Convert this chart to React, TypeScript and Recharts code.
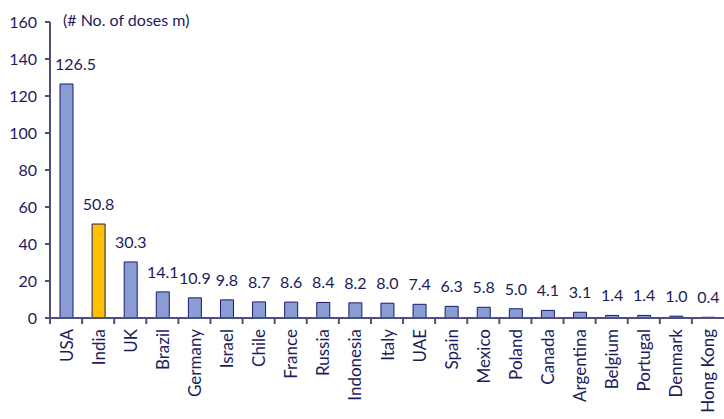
import React from 'react'
import { BarChart, Bar, XAxis, YAxis, LabelList, Cell } from 'recharts'

const countries = [
  'USA', 'India', 'UK', 'Brazil', 'Germany', 'Israel', 'Chile', 'France', 'Russia', 'Indonesia',
  'Italy', 'UAE', 'Spain', 'Mexico', 'Poland', 'Canada', 'Argentina', 'Belgium', 'Portugal', 'Denmark', 'Hong Kong',
]
const doses = [126.5, 50.8, 30.3, 14.1, 10.9, 9.8, 8.7, 8.6, 8.4, 8.2, 8.0, 7.4, 6.3, 5.8, 5.0, 4.1, 3.1, 1.4, 1.4, 1.0, 0.4]
const highlight = 'India'
const yTicks = [0, 20, 40, 60, 80, 100, 120, 140, 160]

const W = 724
const H = 419
const LEFT = 50
const BAND = (W - LEFT) / countries.length

const TEXT = '#1c1c5c'
const AXIS = '#50507a'
const FONT = 'Lato, "Noto Sans", sans-serif'

const data = countries.map((name, i) => ({ name, value: doses[i] }))

function CountryTick(props: any) {
  const { x, y, payload } = props
  const axisY = y - 10
  const left = x - BAND / 2
  return (
    <g>
      <line x1={left} y1={axisY} x2={left} y2={axisY + 6} stroke={AXIS} strokeWidth={2} />
      <text
        x={x}
        y={axisY + 11}
        transform={`rotate(-90, ${x}, ${axisY + 11})`}
        textAnchor="end"
        dominantBaseline="central"
        fill={TEXT}
        fontSize={17}
        fontFamily={FONT}
      >
        {payload.value}
      </text>
    </g>
  )
}

function ValueLabel(props: any) {
  const { x, y, width, value, index } = props
  // first label sits clear of the y axis in the original
  const shift = index === 0 ? 9 : 0
  return (
    <text
      x={x + width / 2 + shift}
      y={y - 14}
      textAnchor="middle"
      fill={TEXT}
      fontSize={16}
      fontFamily={FONT}
    >
      {Number(value).toFixed(1)}
    </text>
  )
}

export default function App() {
  return (
    <div style={{ position: 'absolute', left: 0, top: 0, width: W, height: H, background: '#fff', fontFamily: FONT }}>
      <BarChart
        width={W}
        height={H}
        data={data}
        margin={{ top: 22, right: 0, left: 0, bottom: 0 }}
        barSize={13}
      >
        <XAxis
          dataKey="name"
          interval={0}
          height={101}
          tickSize={5}
          tickMargin={5}
          tickLine={false}
          axisLine={{ stroke: AXIS, strokeWidth: 2 }}
          tick={<CountryTick />}
        />
        <YAxis
          domain={[0, 160]}
          ticks={yTicks}
          width={LEFT}
          tickSize={5}
          tickMargin={8}
          axisLine={{ stroke: AXIS, strokeWidth: 2 }}
          tickLine={{ stroke: AXIS, strokeWidth: 2 }}
          tick={{ fill: TEXT, fontSize: 16, fontFamily: FONT }}
        />
        <Bar dataKey="value" isAnimationActive={false} stroke="#1a1a6e" strokeWidth={1}>
          {data.map((d) => (
            <Cell key={d.name} fill={d.name === highlight ? '#ffc000' : '#8a9dd3'} />
          ))}
          <LabelList dataKey="value" content={<ValueLabel />} />
        </Bar>
      </BarChart>
      <div style={{ position: 'absolute', left: 63, top: 10, fontSize: 16, color: TEXT, fontFamily: FONT }}>
        (# No. of doses m)
      </div>
    </div>
  )
}
